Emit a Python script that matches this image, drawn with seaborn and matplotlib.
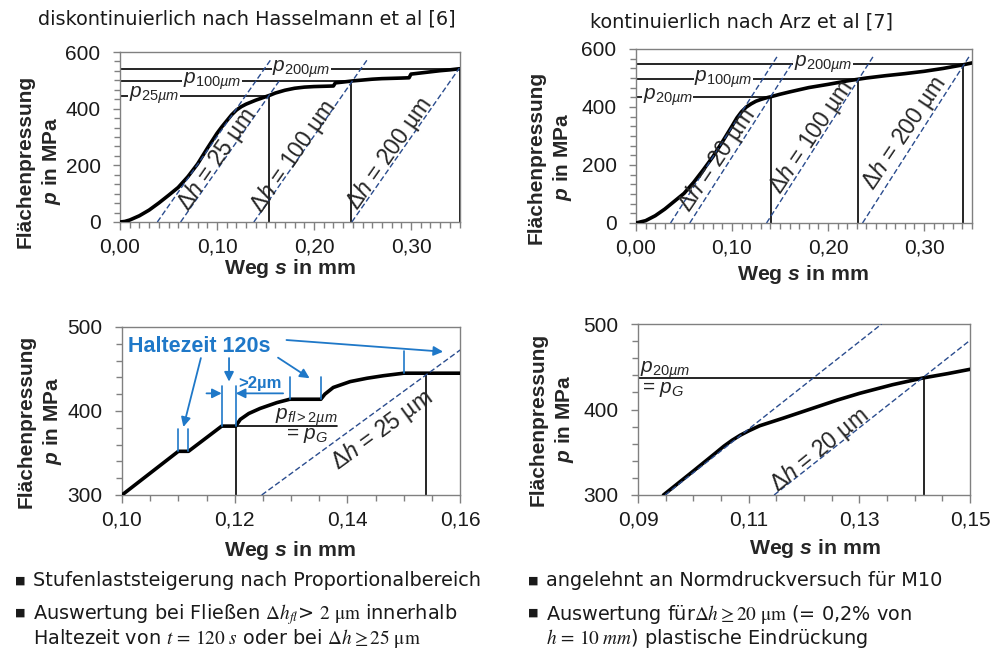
import numpy as np
import pandas as pd
import matplotlib
matplotlib.use("Agg")
import matplotlib.pyplot as plt
import seaborn as sns
from matplotlib.ticker import MultipleLocator, FuncFormatter

# ---------------- data ----------------
# top-left: diskontinuierlich nach Hasselmann
tl_s = [0, 0.005, 0.01, 0.02, 0.03, 0.04, 0.05, 0.06, 0.07, 0.08, 0.09, 0.10, 0.105, 0.11,
        0.115, 0.12, 0.125, 0.13, 0.135, 0.14, 0.145, 0.15, 0.155, 0.16, 0.17, 0.18, 0.19,
        0.20, 0.21, 0.22, 0.222, 0.23, 0.24, 0.25, 0.26, 0.27, 0.28, 0.29, 0.298, 0.300,
        0.31, 0.32, 0.33, 0.34, 0.35]
tl_p = [0, 2, 7, 22, 42, 67, 94, 122, 160, 205, 260, 313, 336, 357,
        378, 395, 407, 416, 423, 430, 436, 442, 448, 455, 465, 472, 476,
        478, 479, 480, 491, 494, 498, 501, 504, 506, 507, 508, 509, 522,
        526, 530, 534, 537, 541]
tl_k = 4900
tl_dash_s0 = [0.0385, 0.0625, 0.138, 0.239]
tl_dash_ptop = [572, 505, 572, 543]
tl_int_s = [0.1536, 0.238, 0.35]
tl_int_p = [446, 498, 540]
tl_plab = [r"$p_{25µm}$", r"$p_{100µm}$", r"$p_{200µm}$"]
tl_plab_s = [0.035, 0.095, 0.187]
tl_dhlab = [r"$\Delta h$ = 25 µm", r"$\Delta h$ = 100 µm", r"$\Delta h$ = 200 µm"]
tl_dhlab_s = [0.100, 0.179, 0.278]
tl_dhlab_p = [219, 230, 243]

# top-right: kontinuierlich nach Arz
tr_s = [0, 0.01, 0.02, 0.03, 0.04, 0.05, 0.06, 0.07, 0.08, 0.09, 0.10, 0.105, 0.11, 0.115,
        0.12, 0.125, 0.13, 0.135, 0.14, 0.15, 0.16, 0.18, 0.20, 0.22, 0.24, 0.26, 0.28,
        0.30, 0.32, 0.34, 0.35]
tr_p = [0, 8, 25, 48, 75, 102, 140, 183, 228, 280, 334, 362, 384, 400,
        411, 420, 426, 431, 435, 444, 452, 467, 478, 490, 500, 508, 515,
        523, 533, 545, 552]
tr_k = 5170
tr_dash_s0 = [0.036, 0.056, 0.136, 0.236]
tr_dash_ptop = [576, 570, 576, 575]
tr_int_s = [0.1405, 0.2316, 0.341]
tr_int_p = [435, 497, 547]
tr_plab = [r"$p_{20µm}$", r"$p_{100µm}$", r"$p_{200µm}$"]
tr_plab_s = [0.033, 0.091, 0.195]
tr_dhlab = [r"$\Delta h$ = 20 µm", r"$\Delta h$ = 100 µm", r"$\Delta h$ = 200 µm"]
tr_dhlab_s = [0.084, 0.183, 0.280]
tr_dhlab_p = [217, 298, 310]

# bottom-left: zoom of stepped test
bl_s = [0.100, 0.110, 0.1118, 0.1177, 0.1202, 0.121, 0.1225, 0.1245, 0.1275, 0.1298,
        0.1353, 0.1360, 0.1375, 0.1405, 0.1435, 0.1464, 0.150, 0.160]
bl_p = [300, 352, 352, 382, 382, 390, 397, 403, 410, 414,
        414, 420, 428, 435, 439, 442, 445, 445]
bl_k = 4900
bl_dash_s0 = [0.1248]
bl_dash_ptop = [472.6]
bl_int_s = [0.1202, 0.154]
bl_int_p = [382, 445]
bl_hold_s = [0.1100, 0.1118, 0.1177, 0.1202, 0.1298, 0.1353, 0.1501]
bl_hold_top = [379, 379, 430, 430, 441, 441, 471]
bl_hold_bot = [352, 352, 382, 382, 414, 414, 445]
bl_arrow_from = [(0.1140, 463), (0.1190, 463), (0.1277, 463.5), (0.1292, 484.5)]
bl_arrow_to = [(0.1109, 381), (0.1190, 435), (0.1333, 439), (0.1570, 470.6)]

# bottom-right: zoom of continuous test
br_s = [0.0946, 0.100, 0.104, 0.1055, 0.107, 0.1085, 0.110, 0.112, 0.1163, 0.1223,
        0.126, 0.1301, 0.136, 0.1416, 0.146, 0.150]
br_p = [300, 328, 349, 357, 364, 370, 375, 381, 390, 403,
        411, 419, 429, 437, 442, 447]
br_k = 5110
br_dash_s0 = [0.0949, 0.1146]
br_dash_ptop = [500, 481]
br_int_s = [0.1416]
br_int_p = [437]

# ---------------- style ----------------
sns.set_style("ticks")
plt.rcParams.update({
    "font.family": ["Liberation Sans", "DejaVu Sans"],
    "mathtext.fontset": "custom",
    "mathtext.rm": "Liberation Sans",
    "mathtext.it": "Liberation Sans:italic",
    "mathtext.bf": "Liberation Sans:bold",
    "mathtext.bfit": "Liberation Sans:italic:bold",
    "mathtext.sf": "Liberation Sans",
})

BLUE = "#1F78C8"
DASH = "#2A4C8E"
GRAY = "#808080"
W, H = 1005, 653

fig = plt.figure(figsize=(W / 100, H / 100), dpi=100)


def px(x, y):
    return x / W, 1 - y / H


def make_ax(l, t, r, b):
    return fig.add_axes([l / W, 1 - b / H, (r - l) / W, (b - t) / H])


def style(ax, xlim, ylim, xmaj, xmin, ymaj, ymin, xoff=0.0):
    ax.set_xlim(xlim)
    ax.set_ylim(ylim)
    ax.xaxis.set_major_locator(MultipleLocator(xmaj, offset=xoff))
    ax.xaxis.set_minor_locator(MultipleLocator(xmin))
    ax.yaxis.set_major_locator(MultipleLocator(ymaj))
    ax.yaxis.set_minor_locator(MultipleLocator(ymin))
    ax.xaxis.set_major_formatter(FuncFormatter(lambda v, _: f"{v:.2f}".replace(".", ",")))
    ax.yaxis.set_major_formatter(FuncFormatter(lambda v, _: f"{v:.0f}"))
    ax.tick_params(which="both", direction="out", color=GRAY, width=1.0,
                   labelsize=15, labelcolor="#1a1a1a")
    ax.tick_params(axis="x", which="major", length=6, pad=5)
    ax.tick_params(axis="y", which="major", length=5, pad=9)
    ax.tick_params(which="minor", length=4)
    for sp in ax.spines.values():
        sp.set_color(GRAY)
        sp.set_linewidth(1.0)
        sp.set_visible(True)
    ax.set_xlabel("")
    ax.set_ylabel("")


def curve(ax, s, p):
    df = pd.DataFrame({"s": s, "p": p})
    sns.lineplot(data=df, x="s", y="p", ax=ax, color="black", lw=2.6,
                 estimator=None, sort=False, zorder=3)


def dashes(ax, s0, ptop, k, pbase):
    for a, top in zip(s0, ptop):
        ax.plot([a, a + (top - pbase) / k], [pbase, top], color=DASH, lw=1.0,
                ls=(0, (4, 2)), zorder=4)


LBL = dict(fontsize=15, ha="center", va="center", zorder=6,
           bbox=dict(facecolor="white", edgecolor="none", pad=0.5))
DHL = dict(fontsize=16.5, ha="center", va="center", zorder=6)

# ---- top-left ----
ax = make_ax(120, 52, 459.5, 222)
curve(ax, tl_s, tl_p)
dashes(ax, tl_dash_s0, tl_dash_ptop, tl_k, 0)
for i, (s, p) in enumerate(zip(tl_int_s, tl_int_p)):
    ax.plot([s, s], [0, p], color="black", lw=2.0 if i == 2 else 1.2, zorder=2)
    ax.plot([0, s], [p, p], color="black", lw=1.2, zorder=2)
for t, s, p in zip(tl_plab, tl_plab_s, tl_int_p):
    ax.text(s, p, t, **LBL)
for t, s, p in zip(tl_dhlab, tl_dhlab_s, tl_dhlab_p):
    ax.text(s, p, t, rotation=55, **DHL)
style(ax, (0, 0.35), (0, 600), 0.10, 0.01, 200, 100 / 3)

# ---- top-right ----
ax = make_ax(636, 49, 972, 223)
curve(ax, tr_s, tr_p)
dashes(ax, tr_dash_s0, tr_dash_ptop, tr_k, 0)
for s, p in zip(tr_int_s, tr_int_p):
    ax.plot([s, s], [0, p], color="black", lw=1.2, zorder=2)
    ax.plot([0, s], [p, p], color="black", lw=1.2, zorder=2)
for t, s, p in zip(tr_plab, tr_plab_s, tr_int_p):
    ax.text(s, p, t, **LBL)
for t, s, p in zip(tr_dhlab, tr_dhlab_s, tr_dhlab_p):
    ax.text(s, p, t, rotation=56, **DHL)
style(ax, (0, 0.35), (0, 600), 0.10, 0.01, 200, 100 / 3)

# ---- bottom-left ----
ax = make_ax(122, 327, 460, 495)
curve(ax, bl_s, bl_p)
dashes(ax, bl_dash_s0, bl_dash_ptop, bl_k, 300)
for s, p in zip(bl_int_s, bl_int_p):
    ax.plot([s, s], [300, p], color="black", lw=1.2, zorder=2)
ax.plot([bl_int_s[0], 0.1381], [bl_int_p[0], bl_int_p[0]], color="black", lw=1.2, zorder=2)
ax.text(0.1328, 393, r"$p_{fl>2µm}$", fontsize=15, ha="center", va="center")
ax.text(0.1329, 371, r"= $p_G$", fontsize=15, ha="center", va="center")
ax.text(0.1461, 377, r"$\Delta h$ = 25 µm", rotation=36, **DHL)
for s, top, bot in zip(bl_hold_s, bl_hold_top, bl_hold_bot):
    ax.plot([s, s], [bot, top], color=BLUE, lw=1.2, zorder=5)
ARW = dict(arrowstyle="-|>", color=BLUE, lw=1.3, mutation_scale=14, shrinkA=0, shrinkB=0)
for a, b in zip(bl_arrow_from, bl_arrow_to):
    ax.annotate("", xy=b, xytext=a, arrowprops=ARW, zorder=5)
ax.annotate("", xy=(0.1177, 421), xytext=(0.1150, 421), arrowprops=ARW)
ax.annotate("", xy=(0.1202, 421), xytext=(0.1286, 421), arrowprops=ARW)
ax.text(0.1010, 476.5, "Haltezeit 120s", fontsize=15.5, fontweight="bold", color=BLUE,
        ha="left", va="center")
ax.text(0.1245, 432.5, ">2µm", fontsize=12, fontweight="bold", color=BLUE,
        ha="center", va="center")
style(ax, (0.10, 0.16), (300, 500), 0.02, 0.005, 100, 20)

# ---- bottom-right ----
ax = make_ax(638, 324, 970, 495)
curve(ax, br_s, br_p)
dashes(ax, br_dash_s0, br_dash_ptop, br_k, 300)
for s, p in zip(br_int_s, br_int_p):
    ax.plot([s, s], [300, p], color="black", lw=1.2, zorder=2)
    ax.plot([0.09, s], [p, p], color="black", lw=1.2, zorder=2)
ax.text(0.0904, 446, r"$p_{20µm}$", fontsize=15, ha="left", va="center")
ax.text(0.0908, 423.5, r"= $p_G$", fontsize=15, ha="left", va="center")
ax.text(0.1229, 352, r"$\Delta h$ = 20 µm", rotation=39, **DHL)
style(ax, (0.09, 0.15), (300, 500), 0.02, 0.005, 100, 20, xoff=0.01)

# ---- axis labels ----
YL = r"Flächenpressung" + "\n" + r"$\mathbfit{p}$ in MPa"
XL = r"Weg $\mathbfit{s}$ in mm"
for (x, y) in [(39, 161), (550, 157), (40, 421), (552, 419)]:
    fig.text(*px(x, y), YL, rotation=90, ha="center", va="center", fontsize=15,
             fontweight="bold", multialignment="center", linespacing=1.3)
for (x, y) in [(290, 268), (803, 275), (290, 550), (815, 549)]:
    fig.text(*px(x, y), XL, ha="center", va="center", fontsize=15.3, fontweight="bold")

# ---- titles ----
TF = dict(fontsize=13.9, family=["DejaVu Sans"], color="#1a1a1a", va="center", ha="center")
fig.text(*px(247, 19), "diskontinuierlich nach Hasselmann et al [6]", **TF)
fig.text(*px(741, 22), "kontinuierlich nach Arz et al [7]", **TF)

# ---- bullet text ----
BT = dict(fontsize=13.9, family=["DejaVu Sans"], color="#1a1a1a", va="center_baseline",
          ha="left", math_fontfamily="stix")
BUL = dict(fontsize=8, family=["DejaVu Sans"], color="#1a1a1a", va="center", ha="center")
for (x, y) in [(20, 581), (20, 613), (533, 581), (533, 613)]:
    fig.text(*px(x, y), "■", **BUL)
fig.text(*px(33, 579), "Stufenlaststeigerung nach Proportionalbereich", **BT)
fig.text(*px(33, 611), r"Auswertung bei Fließen $\Delta h_{fl}$> $2\ \mathrm{\mu m}$ innerhalb", **BT)
fig.text(*px(33, 636), r"Haltezeit von $t\,=\,120\ s$ oder bei $\Delta h \geq 25\ \mathrm{\mu m}$", **BT)
fig.text(*px(546, 579), "angelehnt an Normdruckversuch für M10", **BT)
fig.text(*px(546, 611), r"Auswertung für$\Delta h \geq 20\ \mathrm{\mu m}$ (= 0,2% von", **BT)
fig.text(*px(546, 636), r"$h\,=\,10\ mm$) plastische Eindrückung", **BT)

fig.savefig("out.png", dpi=100)
